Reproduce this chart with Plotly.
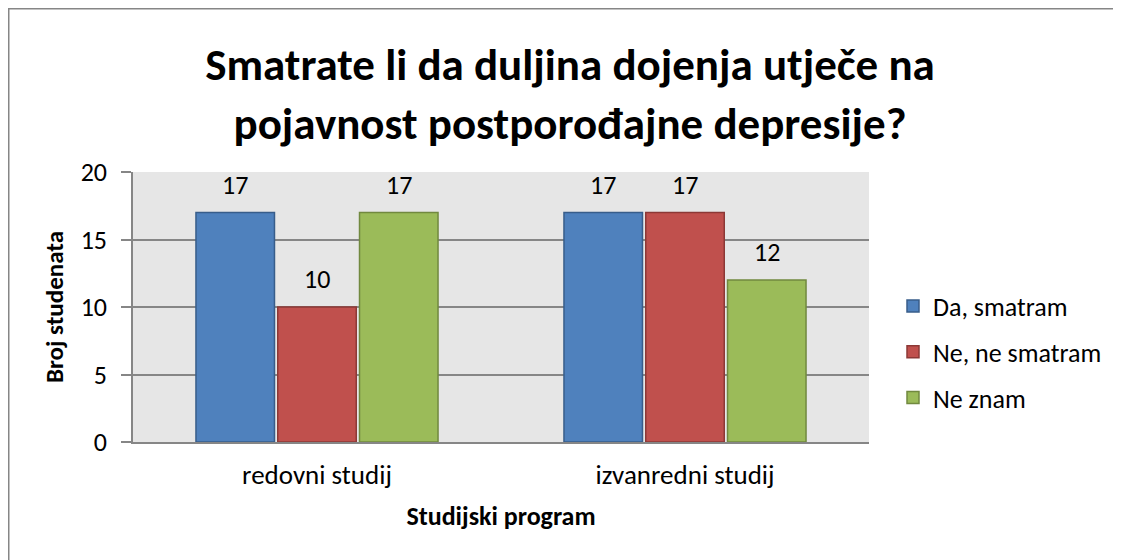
import plotly.graph_objects as go

categories = ["redovni studij", "izvanredni studij"]
series_names = ["Da, smatram", "Ne, ne smatram", "Ne znam"]
da_smatram = [17, 17]
ne_smatram = [10, 17]
ne_znam = [17, 12]

title_text = "Smatrate li da duljina dojenja utječe na<br>pojavnost postporođajne depresije?"
x_title = "Studijski program"
y_title = "Broj studenata"
y_ticks = [0, 5, 10, 15, 20]

fill_colors = ["#4F81BD", "#C0504D", "#9BBB59"]
line_colors = ["#385D8A", "#8C3836", "#71893F"]
FONT = "Carlito, Lato, sans-serif"

values = [da_smatram, ne_smatram, ne_znam]

# the page body has an 8px margin, so the figure starts at (8, 8)
OFF = 8
FW, FH = 1121 - OFF, 560 - OFF

fig = go.Figure()
for i, (name, vals) in enumerate(zip(series_names, values)):
    fig.add_trace(go.Bar(
        x=categories, y=vals, name=name,
        marker=dict(color=fill_colors[i], line=dict(color=line_colors[i], width=1.5)),
        legendgroup=f"g{i}",
    ))

# plot area in page px: x 133..869, y 172..442
L, T = 133 - OFF, 172 - OFF
R, B = (OFF + FW) - 869, (OFF + FH) - 442
W, H = FW - L - R, FH - T - B
cat_w = W / len(categories)
bargap = 1 / 3
slot = cat_w * (1 - bargap) / len(series_names)

annotations = []
for i, vals in enumerate(values):
    for c, v in zip(categories, vals):
        annotations.append(dict(
            x=c, y=v, xref="x", yref="y", text=str(v), showarrow=False,
            xshift=(i - 1) * slot, yshift=28, font=dict(family=FONT, size=26, color="#000"),
        ))

def px_to_x(px):
    return (px - 133) / W

def px_to_y(py):
    return (442 - py) / H

fig.update_layout(
    width=FW, height=FH,
    margin=dict(l=L, r=R, t=T, b=B),
    paper_bgcolor="white", plot_bgcolor="#E6E6E6",
    barmode="group", bargap=bargap, bargroupgap=0.04,
    font=dict(family=FONT, size=26, color="#000"),
    title=dict(text=title_text, x=(570 - OFF) / FW, xanchor="center",
               y=1 - (80 - OFF) / FH, yanchor="middle", yref="container",
               font=dict(family=FONT, size=45, color="#000", weight="bold")),
    xaxis=dict(showline=True, linecolor="#868686", linewidth=1.5, ticks="",
               tickfont=dict(size=27), ticklabelstandoff=8,
               title=dict(text=x_title, font=dict(size=26, weight="bold"), standoff=17)),
    yaxis=dict(range=[0, 20], tickvals=y_ticks, showgrid=True, gridcolor="#868686", gridwidth=1.5,
               showline=True, linecolor="#868686", linewidth=1.5,
               ticks="outside", ticklen=10, tickcolor="#868686", tickwidth=1.5,
               tickfont=dict(size=26), zeroline=False, ticklabelstandoff=9,
               title=dict(text=y_title, font=dict(size=25, weight="bold"), standoff=10)),
    legend=dict(x=px_to_x(893), xanchor="left", y=px_to_y(352), yanchor="middle",
                font=dict(size=26), tracegroupgap=9, bgcolor="rgba(0,0,0,0)"),
    annotations=annotations,
    showlegend=True,
)

fig.add_shape(type="rect", xref="paper", yref="paper",
              x0=px_to_x(8.75), x1=px_to_x(1135), y0=px_to_y(8.75), y1=px_to_y(575),
              line=dict(color="#868686", width=1.5), fillcolor="rgba(0,0,0,0)", layer="above")

fig.write_html("out.html")
